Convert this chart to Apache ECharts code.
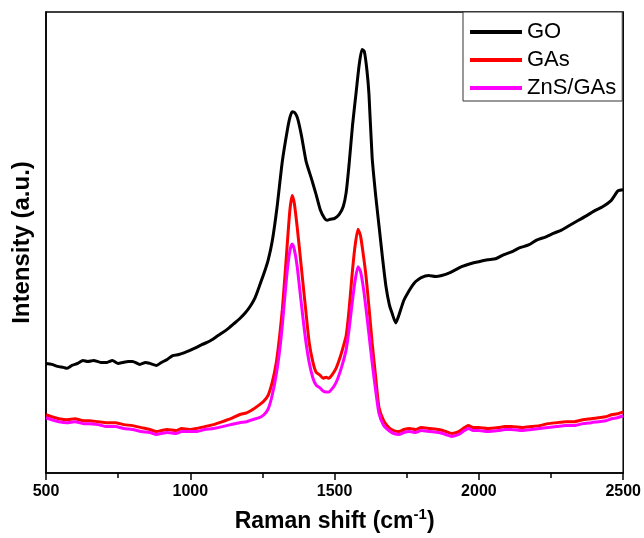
<!DOCTYPE html>
<html>
<head>
<meta charset="utf-8">
<script src="https://cdn.jsdelivr.net/npm/echarts@6/dist/echarts.min.js"></script>
<style>
html,body{margin:0;padding:0;background:#fff;}
#chart{width:644px;height:538px;}
</style>
</head>
<body>
<div id="chart"></div>
<script>
var seriesNames = ['GO', 'GAs', 'ZnS/GAs'];
var xTicks = [500, 1000, 1500, 2000, 2500];

var goX = [500,520,540,560,573,590,610,628,645,665,690,711,730,750,766,785,800,825,845,860,883,900,920,939,960,980,997,1020,1040,1056,1075,1095,1111,1130,1150,1170,1190,1210,1225,1239,1255,1270,1284,1300,1319,1336,1345,1353,1362,1372,1385,1401,1420,1436,1450,1465,1474,1485,1500,1516,1530,1540,1550,1562,1574,1585,1595,1603,1612,1619,1630,1642,1654,1666,1678,1690,1699,1712,1723,1740,1757,1770,1781,1800,1826,1850,1871,1900,1920,1940,1970,1999,2030,2058,2085,2113,2140,2172,2200,2230,2260,2286,2315,2345,2375,2403,2430,2458,2470,2482,2500];
var goY = [111,110,108,107,106,109,111,114,113,114,112,112,114,111,112,113,113,110,112,111,109,112,115,119,120,122,124,127,130,132,135,139,142,146,151,156,162,170,178,189,202,216,235,268,316,347,360,366,365,359,342,316,298,282,267,258,256,257,258,262,270,284,312,352,384,413,429,427,408,384,320,282,250,218,189,170,162,152,160,175,184,190,194,198,200,199,200,203,206,209,212,214,216,217,221,224,228,231,236,239,243,246,251,256,261,266,270,276,281,286,287];

var gasX = [500,520,545,573,600,630,650,680,711,740,770,800,830,860,883,900,920,950,970,997,1020,1050,1080,1111,1140,1170,1195,1215,1239,1255,1270,1284,1298,1310,1319,1328,1336,1345,1353,1360,1370,1380,1388,1400,1412,1425,1436,1450,1460,1471,1480,1490,1505,1520,1530,1540,1550,1560,1570,1581,1590,1600,1609,1620,1630,1642,1654,1670,1688,1705,1723,1740,1760,1780,1800,1830,1861,1885,1906,1930,1950,1964,1980,1999,2030,2068,2090,2113,2150,2182,2210,2240,2270,2300,2330,2360,2390,2413,2440,2460,2480,2500];
var gasY = [59,57,55,54,55,53,53,52,51,51,49,48,46,44,42,43,44,43,45,44,45,47,49,52,55,59,61,64,69,73,79,92,112,140,166,200,232,266,281,274,250,222,199,165,132,112,102,99,96,97,96,99,106,118,128,139,165,199,228,247,240,220,199,165,132,98,66,53,46,43,42,44,45,44,46,45,44,42,40,42,46,48,46,46,45,46,47,47,46,47,48,50,51,52,52,54,55,56,57,59,60,62];

var znsX = [500,520,545,573,600,630,650,680,711,740,770,800,830,860,883,900,920,950,970,997,1020,1050,1080,1111,1140,1170,1195,1215,1239,1255,1270,1284,1298,1310,1319,1328,1336,1345,1353,1360,1370,1380,1390,1401,1412,1425,1436,1450,1460,1471,1480,1490,1500,1510,1525,1540,1550,1560,1570,1581,1590,1600,1609,1620,1630,1643,1654,1670,1688,1705,1723,1740,1760,1780,1800,1830,1861,1885,1906,1930,1950,1964,1980,1999,2030,2068,2090,2113,2150,2182,2210,2240,2270,2300,2330,2360,2390,2413,2440,2460,2480,2500];
var znsY = [56,54,52,51,52,50,50,49,47,47,45,44,42,41,39,40,41,40,42,42,42,44,45,47,49,51,52,54,56,59,65,79,100,125,150,180,205,225,232,227,210,184,158,132,112,96,89,86,83,82,82,85,89,95,108,125,145,170,193,209,204,187,166,138,112,82,60,48,43,40,39,41,42,41,43,42,41,39,37,39,43,45,43,43,42,43,44,44,43,44,45,46,47,48,48,50,51,52,53,55,56,58];

function zip(xs, ys) { return xs.map(function (x, i) { return [x, ys[i]]; }); }

var FONT = '"Liberation Sans", Arial, sans-serif';
var chart = echarts.init(document.getElementById('chart'));
var colors = ['#000000', '#ff0000', '#ff00ff'];
var data = [zip(goX, goY), zip(gasX, gasY), zip(znsX, znsY)];

chart.setOption({
  animation: false,
  backgroundColor: '#ffffff',
  grid: { left: 46, right: 19, top: 12, bottom: 59, show: true, borderColor: '#000', borderWidth: 1.5, backgroundColor: 'transparent' },
  legend: {
    orient: 'vertical',
    left: 463, top: 12,
    padding: [9, 6, 2, 7],
    itemGap: 6,
    itemWidth: 52, itemHeight: 4,
    icon: 'rect',
    backgroundColor: '#fff',
    borderColor: '#333', borderWidth: 1,
    textStyle: { fontFamily: FONT, fontSize: 22, color: '#000' },
    data: seriesNames
  },
  xAxis: {
    type: 'value',
    min: xTicks[0], max: xTicks[xTicks.length - 1], interval: 500,
    name: '{a|Raman shift (cm}{s|-1}{a|)}',
    nameLocation: 'middle',
    nameGap: 34,
    nameTextStyle: {
      rich: {
        a: { fontFamily: FONT, fontSize: 23, fontWeight: 'bold', color: '#000', verticalAlign: 'bottom', lineHeight: 26 },
        s: { fontFamily: FONT, fontSize: 15, fontWeight: 'bold', color: '#000', verticalAlign: 'top', lineHeight: 26, padding: [0, 0, 11, 0] }
      }
    },
    axisLine: { lineStyle: { color: '#000', width: 1.5 } },
    axisTick: { show: true, length: 7, inside: false, lineStyle: { color: '#000', width: 1.5 } },
    minorTick: { show: true, splitNumber: 2, length: 5, lineStyle: { color: '#000', width: 1.5 } },
    splitLine: { show: false },
    axisLabel: { fontFamily: FONT, fontSize: 16, fontWeight: 'bold', color: '#000', margin: 11,
      formatter: function (v) { return String(v); } }
  },
  yAxis: {
    type: 'value', min: 0, max: 467,
    name: 'Intensity (a.u.)',
    nameLocation: 'middle', nameGap: 12, nameRotate: 90,
    nameTextStyle: { fontFamily: FONT, fontSize: 24, fontWeight: 'bold', color: '#000' },
    axisLine: { show: true, lineStyle: { color: '#000', width: 1.5 } },
    axisTick: { show: false },
    axisLabel: { show: false },
    splitLine: { show: false }
  },
  series: seriesNames.map(function (n, i) {
    return {
      name: n, type: 'line', data: data[i], showSymbol: false, symbol: 'none',
      smooth: 0.2,
      lineStyle: { color: colors[i], width: 3 },
      itemStyle: { color: colors[i] },
      z: 2 + i
    };
  })
});
</script>
</body>
</html>
